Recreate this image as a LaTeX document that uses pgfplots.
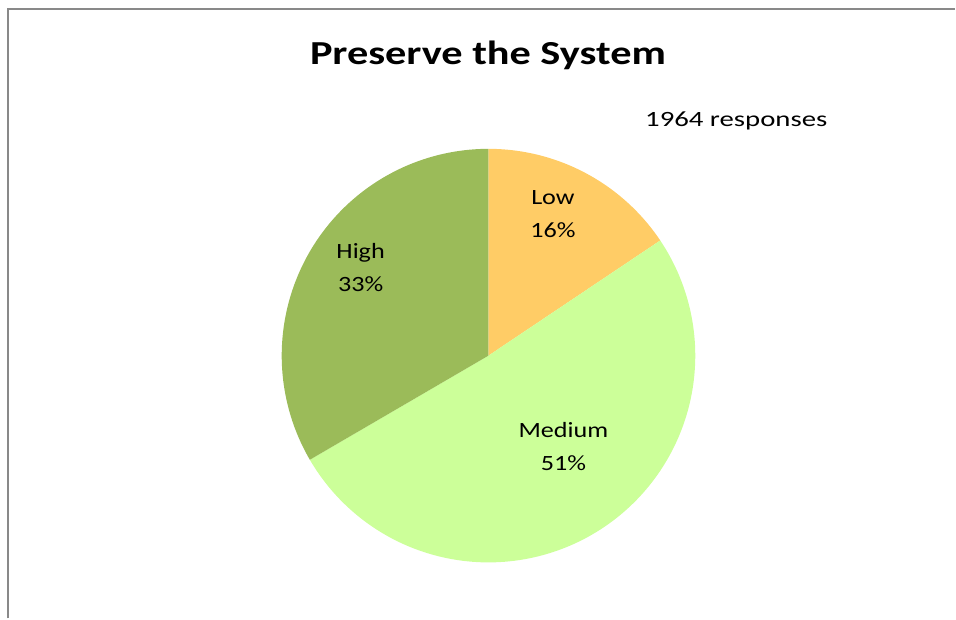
\documentclass[border=0pt]{standalone}
\usepackage{pgfplots}
\usepackage{pgfplotstable}
\usepackage{graphicx}
\usepackage{fontspec}
\setmainfont{Carlito}
\pgfplotsset{compat=1.18}
\definecolor{lowc}{HTML}{FFCC66}
\definecolor{medc}{HTML}{CCFF99}
\definecolor{highc}{HTML}{9BBB59}
\definecolor{framec}{HTML}{898989}
\pgfplotstableread{
label value
Low 15.6
Medium 51.0
High 33.4
}\piedata
\newcommand{\lab}[2][1.2]{\scalebox{#1}[1]{#2}}
\begin{document}
\begin{tikzpicture}
\pgfplotstablegetelem{0}{value}\of\piedata \let\vA\pgfplotsretval
\pgfplotstablegetelem{1}{value}\of\piedata \let\vB\pgfplotsretval
\pgfplotstablegetelem{2}{value}\of\piedata \let\vC\pgfplotsretval
\pgfmathsetmacro\aA{90}
\pgfmathsetmacro\aB{\aA-3.6*\vA}
\pgfmathsetmacro\aC{\aB-3.6*\vB}
\pgfmathsetmacro\aD{\aC-3.6*\vC}
\begin{axis}[
  width=478pt, height=309.5pt, scale only axis,
  xmin=0, xmax=956, ymin=0, ymax=619,
  hide axis, clip=false,
]
\path (rel axis cs:0,0) rectangle (rel axis cs:1,1);
\addplot[fill=lowc, draw=none, domain=\aB:\aA, samples=80, variable=\t]
  ({489+207*cos(\t)},{263+207*sin(\t)}) -- (axis cs:489,263) -- cycle;
\addplot[fill=medc, draw=none, domain=\aC:\aB, samples=150, variable=\t]
  ({489+207*cos(\t)},{263+207*sin(\t)}) -- (axis cs:489,263) -- cycle;
\addplot[fill=highc, draw=none, domain=\aD:\aC, samples=120, variable=\t]
  ({489+207*cos(\t)},{263+207*sin(\t)}) -- (axis cs:489,263) -- cycle;
\addplot[draw=framec, line width=1pt] coordinates {(8.5,0) (8.5,609.5) (956,609.5)};
\node[anchor=base, font=\fontsize{16.8pt}{20pt}\selectfont\bfseries] at (axis cs:488.5,554) {\lab[1.26]{Preserve the System}};
\node[anchor=base, font=\fontsize{10.9pt}{13pt}\selectfont] at (axis cs:737,492) {\lab[1.32]{1964 responses}};
\node[anchor=base, font=\fontsize{10.9pt}{13pt}\selectfont] at (axis cs:553.5,414) {\lab{Low}};
\node[anchor=base, font=\fontsize{10.9pt}{13pt}\selectfont] at (axis cs:553.5,381) {\lab{16\%}};
\node[anchor=base, font=\fontsize{10.9pt}{13pt}\selectfont] at (axis cs:361,360) {\lab{High}};
\node[anchor=base, font=\fontsize{10.9pt}{13pt}\selectfont] at (axis cs:361,327) {\lab{33\%}};
\node[anchor=base, font=\fontsize{10.9pt}{13pt}\selectfont] at (axis cs:564,181) {\lab{Medium}};
\node[anchor=base, font=\fontsize{10.9pt}{13pt}\selectfont] at (axis cs:564,148) {\lab{51\%}};
\end{axis}
\end{tikzpicture}
\end{document}
